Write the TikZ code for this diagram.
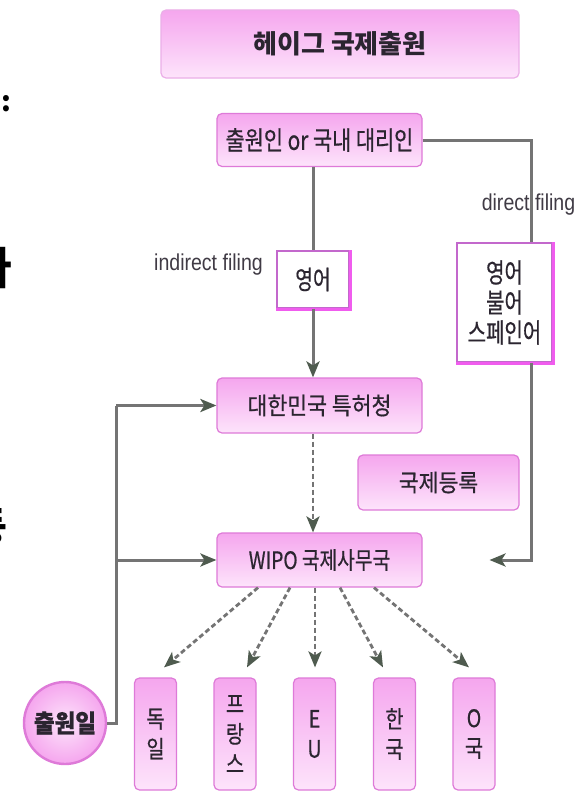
\documentclass[tikz,border=0pt]{standalone}
\usepackage{fontspec}
\usetikzlibrary{arrows.meta,calc}
\setmainfont{Noto Sans CJK KR}
\newfontfamily\kr{Noto Sans CJK KR}
\newfontfamily\krb[FakeStretch=0.9,FakeBold=0.6]{Noto Sans CJK KR}
\newfontfamily\krc[FakeStretch=0.8,FakeBold=0.6]{Noto Sans CJK KR}
\newfontfamily\krv[FakeStretch=0.82,FakeBold=0.6]{Noto Sans CJK KR}
\newfontfamily\krn[FakeStretch=0.74,FakeBold=0.4]{Noto Sans CJK KR}
\newfontfamily\lat[FakeStretch=0.85]{Liberation Sans}
\definecolor{pk}{HTML}{F5A6EE}
\definecolor{pkl}{HTML}{FDE4FB}
\definecolor{pkd}{HTML}{DE7AD8}
\definecolor{wbd}{HTML}{C368CC}
\definecolor{mg}{HTML}{F05CEE}
\definecolor{ln}{HTML}{747474}
\definecolor{tipc}{HTML}{4F5B4F}
\definecolor{tx}{HTML}{2B2530}
\tikzset{
  pbox/.style={rounded corners=5pt, top color=pk, middle color=pk!85!pkl, bottom color=pkl,
    draw=pkd, line width=1.2pt, inner sep=0pt, align=center, text=tx},
  wbox/.style={fill=white, draw=wbd, line width=1.2pt, inner sep=0pt, align=center, text=tx},
  gl/.style={draw=ln, line width=3pt},
  arr/.style={gl, -{Stealth[length=16pt,width=13pt,inset=4pt,color=tipc]}},
  darr/.style={draw=ln, line width=2.8pt, dash pattern=on 5pt off 3pt,
    -{Stealth[length=16pt,width=13pt,inset=4pt,color=tipc]}},
  lbl/.style={inner sep=0pt, text=tx!90, font=\lat\fontsize{23}{25}\selectfont},
  cbox/.style={pbox, minimum width=42pt, minimum height=112pt, font=\krv\fontsize{24}{30}\selectfont},
  frag/.style={anchor=west, inner sep=0pt, text=black},
}
\begin{document}
\begin{tikzpicture}[x=1pt,y=-1pt]
\fill[white] (0,0) rectangle (586,792);
\useasboundingbox (0,0) rectangle (586,792);

% clipped text fragments at the left edge (cut off in the reference too)
\node[inner sep=0pt, font=\kr\bfseries\fontsize{28}{28}\selectfont] (f1) at (6,104) {:};
\node[frag, font=\kr\bfseries\fontsize{44}{44}\selectfont] (f2) at (-29,268) {다};
\node[frag, font=\kr\bfseries\fontsize{40}{40}\selectfont] (f3) at (-30,527) {등};

% labels
\node[lbl] (ind) at (208.5,265) {indirect filing};
\node[lbl] (dir) at (528.5,205) {direct filing};

% boxes
\node[pbox, draw=pkd!60, minimum width=358pt, minimum height=68pt,
  font=\kr\bfseries\fontsize{26}{30}\selectfont] (title) at (340,44) {헤이그 국제출원};
\node[pbox, minimum width=205pt, minimum height=53pt,
  font=\krc\fontsize{26}{30}\selectfont] (app) at (319.5,140) {출원인 or 국내 대리인};
\node[wbox, minimum width=72pt, minimum height=57pt,
  font=\krn\fontsize{26}{30}\selectfont] (en) at (313,279.5) {영어};
\node[wbox, minimum width=95pt, minimum height=119pt,
  font=\krn\fontsize{27}{30}\selectfont] (lang) at (504.5,302.5) {영어\\불어\\스페인어};
\draw[mg, line width=2.4pt] ([yshift=-0.8pt]en.south west) -- ([xshift=0.8pt,yshift=-0.8pt]en.south east) -- ([xshift=0.8pt]en.north east);
\draw[mg, line width=2.4pt] ([yshift=-0.8pt]lang.south west) -- ([xshift=0.8pt,yshift=-0.8pt]lang.south east) -- ([xshift=0.8pt]lang.north east);
\node[pbox, minimum width=205pt, minimum height=55pt,
  font=\krb\fontsize{24}{28}\selectfont] (kipo) at (319.5,405.5) {대한민국 특허청};
\node[pbox, minimum width=161pt, minimum height=55pt,
  font=\krb\fontsize{24}{28}\selectfont] (reg) at (438.5,482.5) {국제등록};
\node[pbox, minimum width=205pt, minimum height=54pt,
  font=\krc\fontsize{24}{28}\selectfont] (wipo) at (319.5,560) {WIPO 국제사무국};
\node[circle, inner color=pkl, outer color=pk, draw=pkd, line width=2.4pt, minimum size=82pt,
  inner sep=0pt, text=tx, font=\krb\bfseries\fontsize{25}{28}\selectfont] (ad) at (65,723) {출원일};

\node[cbox] (de) at (155.5,734) {독\\일};
\node[cbox] (fr) at (235,734) {프\\랑\\스};
\node[cbox] (eu) at (314.5,734) {E\\U};
\node[cbox] (ko) at (394.5,734) {한\\국};
\node[cbox] (oc) at (474,734) {O\\국};

% connectors
\coordinate (cv) at (313,0);
\coordinate (jl) at (116,0);
\coordinate (rv) at (531,0);
\coordinate (rt) at (489.5,560);

\draw[gl] (cv |- app.south) -- (en.north);
\draw[arr] (en.south) -- (cv |- kipo.north);
\draw[darr] (cv |- kipo.south) -- (cv |- wipo.north);

\draw[gl] (app.east) -| (rv |- lang.north);
\draw[arr] (rv |- lang.south) |- (rt);

\draw[gl] (ad.east) -| (jl |- kipo.west);
\draw[arr] (jl |- kipo.west) -- (kipo.west);
\draw[arr] (jl |- wipo.west) -- (wipo.west);

\draw[darr] ([xshift=-61.5pt]wipo.south) -- ([xshift=8.5pt,yshift=10pt]de.north);
\draw[darr] ([xshift=-29.5pt]wipo.south) -- ([xshift=12pt,yshift=10pt]fr.north);
\draw[darr] ([xshift=-4.5pt]wipo.south) -- ([xshift=0.5pt,yshift=10pt]eu.north);
\draw[darr] ([xshift=20.5pt]wipo.south) -- ([xshift=-11.5pt,yshift=10pt]ko.north);
\draw[darr] ([xshift=54.5pt]wipo.south) -- ([xshift=-5pt,yshift=10pt]oc.north);
\end{tikzpicture}
\end{document}
